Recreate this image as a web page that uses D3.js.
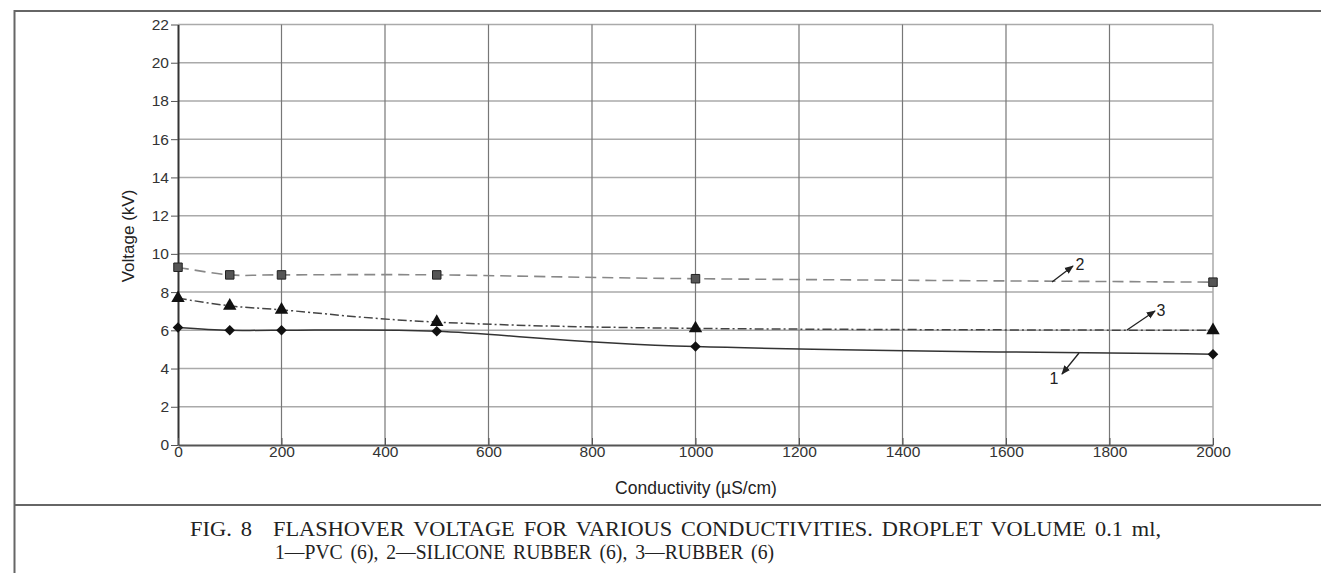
<!DOCTYPE html>
<html><head><meta charset="utf-8">
<script src="https://cdn.jsdelivr.net/npm/d3@7"></script>
<style>body{margin:0;background:#fff}svg{display:block}</style>
</head><body>
<script>
const conductivity = [0, 100, 200, 500, 1000, 2000];
const pvc = [6.15, 6.0, 6.0, 5.95, 5.15, 4.75];
const silicone = [9.3, 8.9, 8.9, 8.9, 8.7, 8.52];
const rubber = [7.68, 7.28, 7.07, 6.43, 6.1, 6.0];
const xTicks = [0, 200, 400, 600, 800, 1000, 1200, 1400, 1600, 1800, 2000];
const yTicks = [0, 2, 4, 6, 8, 10, 12, 14, 16, 18, 20, 22];
const seriesLabels = ["1", "2", "3"];
const captionFig = "FIG. 8";
const caption1 = "FLASHOVER VOLTAGE FOR VARIOUS CONDUCTIVITIES. DROPLET VOLUME 0.1 ml,";
const caption2 = "1—PVC (6), 2—SILICONE RUBBER (6), 3—RUBBER (6)";

const W = 1321, H = 573;
const svg = d3.select("body").append("svg").attr("width", W).attr("height", H);
const x = d3.scaleLinear().domain([0, 2000]).range([178, 1213]);
const y = d3.scaleLinear().domain([0, 22]).range([445, 24.5]);

// frame
svg.append("path").attr("d", `M${W},11H14.5V${H}`).attr("fill", "none").attr("stroke", "#666").attr("stroke-width", 2);
svg.append("line").attr("x1", 14).attr("x2", W).attr("y1", 505).attr("y2", 505).attr("stroke", "#666").attr("stroke-width", 2);

// grid
svg.append("g").selectAll("line").data(yTicks.filter(d => d > 0)).join("line")
  .attr("x1", x(0)).attr("x2", x(2000)).attr("y1", d => y(d)).attr("y2", d => y(d))
  .attr("stroke", "#aaa").attr("stroke-width", 1.5);
svg.append("g").selectAll("line").data(xTicks.filter(d => d > 0)).join("line")
  .attr("x1", d => x(d)).attr("x2", d => x(d)).attr("y1", y(22)).attr("y2", y(0))
  .attr("stroke", d => d === 2000 ? "#aaa" : "#777").attr("stroke-width", d => d === 2000 ? 1.5 : 1.2);

// axes
const font = "'Liberation Sans', Arial, sans-serif";
const yAxis = svg.append("g").attr("transform", `translate(${x(0)},0)`)
  .call(d3.axisLeft(y).tickValues(yTicks).tickFormat(d3.format("d")).tickSize(7).tickPadding(2).tickSizeOuter(0));
yAxis.select(".domain").attr("stroke", "#333").attr("stroke-width", 2);
yAxis.selectAll(".tick line").attr("stroke", "#555");
yAxis.selectAll("text").attr("font-family", font).attr("font-size", 15.5).attr("fill", "#333");

const xAxis = svg.append("g").attr("transform", `translate(0,${y(0)})`)
  .call(d3.axisBottom(x).tickValues(xTicks).tickFormat(d3.format("d")).tickSize(7).tickPadding(2).tickSizeOuter(0));
xAxis.select(".domain").attr("stroke", "#555").attr("stroke-width", 2);
xAxis.selectAll(".tick line").attr("stroke", "#555").attr("transform", "translate(0,-7)");
xAxis.selectAll("text").attr("font-family", font).attr("font-size", 15.5).attr("fill", "#333").attr("dy", "0.2em");

svg.append("text").attr("x", 696).attr("y", 494).attr("text-anchor", "middle")
  .attr("font-family", font).attr("font-size", 17.5).attr("fill", "#222").text("Conductivity (µS/cm)");
svg.append("text").attr("transform", "translate(134,236) rotate(-90)").attr("text-anchor", "middle")
  .attr("font-family", font).attr("font-size", 17).attr("fill", "#222").text("Voltage (kV)");

// series
const line = d3.line().x(d => x(d[0])).y(d => y(d[1])).curve(d3.curveCatmullRom.alpha(0));
const mk = arr => conductivity.map((c, i) => [c, arr[i]]);
svg.append("path").datum(mk(silicone)).attr("d", line).attr("fill", "none")
  .attr("stroke", "#888").attr("stroke-width", 1.6).attr("stroke-dasharray", "11,6");
svg.append("path").datum(mk(rubber)).attr("d", line).attr("fill", "none")
  .attr("stroke", "#444").attr("stroke-width", 1.5).attr("stroke-dasharray", "9,3,2,3");
svg.append("path").datum(mk(pvc)).attr("d", line).attr("fill", "none")
  .attr("stroke", "#333").attr("stroke-width", 1.5);

const sym = (type, size) => d3.symbol().type(type).size(size)();
svg.append("g").selectAll("path").data(mk(silicone)).join("path")
  .attr("transform", d => `translate(${x(d[0])},${y(d[1])})`).attr("d", sym(d3.symbolSquare, 72))
  .attr("fill", "#555").attr("stroke", "#222").attr("stroke-width", 1);
svg.append("g").selectAll("path").data(mk(rubber)).join("path")
  .attr("transform", d => `translate(${x(d[0])},${y(d[1])})`).attr("d", sym(d3.symbolTriangle, 78))
  .attr("fill", "#111");
svg.append("g").selectAll("path").data(mk(pvc)).join("path")
  .attr("transform", d => `translate(${x(d[0])},${y(d[1])}) rotate(45)`).attr("d", sym(d3.symbolSquare, 56))
  .attr("fill", "#111");

// annotations with arrows
const defs = svg.append("defs");
defs.append("marker").attr("id", "ah").attr("viewBox", "0 0 10 10").attr("refX", 9).attr("refY", 5)
  .attr("markerWidth", 7).attr("markerHeight", 7).attr("orient", "auto")
  .append("path").attr("d", "M0,1L10,5L0,9Z").attr("fill", "#222");
const ann = [
  {lab: seriesLabels[0], x1: 1079, y1: 353, x2: 1062, y2: 374, tx: 1054, ty: 384},
  {lab: seriesLabels[1], x1: 1052, y1: 282, x2: 1073, y2: 266, tx: 1080, ty: 270},
  {lab: seriesLabels[2], x1: 1127, y1: 330, x2: 1155, y2: 311, tx: 1161, ty: 316}
];
svg.append("g").selectAll("line").data(ann).join("line")
  .attr("x1", d => d.x1).attr("y1", d => d.y1).attr("x2", d => d.x2).attr("y2", d => d.y2)
  .attr("stroke", "#222").attr("stroke-width", 1.3).attr("marker-end", "url(#ah)");
svg.append("g").selectAll("text").data(ann).join("text")
  .attr("x", d => d.tx).attr("y", d => d.ty).attr("text-anchor", "middle")
  .attr("font-family", font).attr("font-size", 16).attr("fill", "#222").text(d => d.lab);

// caption lines fitted to their measured spans
const serif = "'Liberation Serif', 'Times New Roman', serif";
function caption(txt, x0, y0, width) {
  svg.append("text").attr("x", x0).attr("y", y0).attr("font-family", serif)
    .attr("font-size", 20).attr("fill", "#222").attr("word-spacing", 3)
    .attr("textLength", width).attr("lengthAdjust", "spacingAndGlyphs").text(txt);
}
caption(captionFig, 190, 536, 62);
caption(caption1, 273, 536, 888);
caption(caption2, 275, 559, 499);
</script>
</body></html>
